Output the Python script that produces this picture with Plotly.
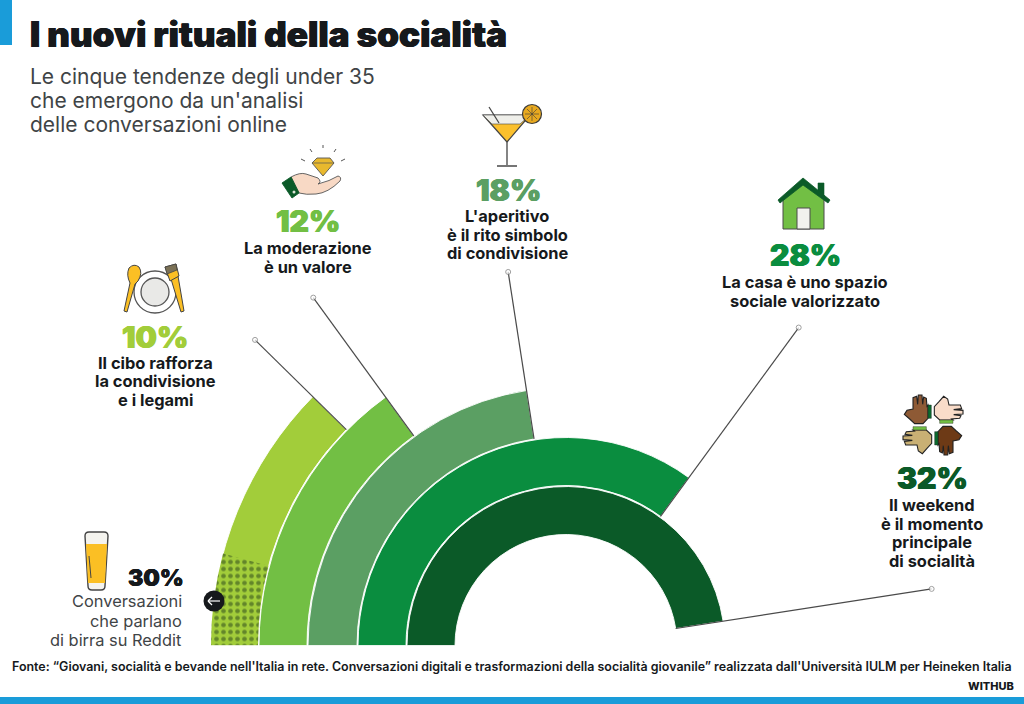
import plotly.graph_objects as go

# percentages and how far each ring runs from the left baseline (degrees)
pct = [10, 12, 18, 28, 32]
sweep_deg = [44.5, 54, 81.2, 126.2, 171.2]
leader_tip = [436, 430, 378, 394, 370]
labels = [
    "Il cibo rafforza<br>la condivisione<br>e i legami",
    "La moderazione<br>è un valore",
    "L'aperitivo<br>è il rito simbolo<br>di condivisione",
    "La casa è uno spazio<br>sociale valorizzato",
    "Il weekend<br>è il momento<br>principale<br>di socialità",
]
beer_pct = 30
beer_sweep_deg = 15
beer_label = "Conversazioni<br>che parlano<br>di birra su Reddit"
title = "I nuovi rituali della socialità"
subtitle = "Le cinque tendenze degli under 35<br>che emergono da un'analisi<br>delle conversazioni online"
source = ("Fonte: “Giovani, socialità e bevande nell'Italia in rete. Conversazioni digitali e trasformazioni "
          "della socialità giovanile” realizzata dall'Università IULM per Heineken Italia")

colors = ["#a2cd3a", "#72bf44", "#5b9f63", "#0a8d3f", "#0b5a28"]
ring_in = [308, 259, 209, 160, 111]
ring_out = [355, 307, 258, 208, 159]
INK = "#16191c"
FONT = "Inter"

# polar area is laid out so one radial unit = one pixel, centre at (566, 645.5)
R = 458
fig = go.Figure()
for i in range(5):
    fig.add_trace(go.Barpolar(
        r=[ring_out[i] - ring_in[i]], base=[ring_in[i]],
        theta=[180 - sweep_deg[i] / 2], width=[sweep_deg[i]],
        marker=dict(color=colors[i], line=dict(color="white", width=0.9)),
        hoverinfo="skip"))
fig.add_trace(go.Barpolar(
    r=[ring_out[0] - ring_in[0]], base=[ring_in[0]],
    theta=[180 - beer_sweep_deg / 2], width=[beer_sweep_deg],
    marker=dict(color=colors[0], line=dict(width=0),
                pattern=dict(shape=".", fgcolor="#24401a", bgcolor=colors[0], size=7, solidity=0.35)),
    hoverinfo="skip"))

# leader lines run along the end of each ring
for i in range(5):
    fig.add_trace(go.Scatterpolar(
        r=[ring_in[i], leader_tip[i]], theta=[180 - sweep_deg[i]] * 2,
        mode="lines+markers", line=dict(color="#4a4a4a", width=1.2),
        marker=dict(size=[0, 5], color="white", line=dict(color="#777777", width=1)),
        hoverinfo="skip"))

# empty trace so the hidden pixel axes exist for shapes and text
fig.add_trace(go.Scatter(x=[], y=[], xaxis="x", yaxis="y", hoverinfo="skip"))

shapes = []


def poly(points, fill, line="#3a3a3a", width=1.0):
    d = "M " + " L ".join(f"{x},{y}" for x, y in points) + " Z"
    shapes.append(dict(type="path", path=d, fillcolor=fill, line=dict(color=line, width=width)))


def curve(d, fill, line="#3a3a3a", width=1.0):
    shapes.append(dict(type="path", path=d, fillcolor=fill, line=dict(color=line, width=width)))


def seg(x0, y0, x1, y1, color="#3a3a3a", width=1.2):
    shapes.append(dict(type="line", x0=x0, y0=y0, x1=x1, y1=y1, line=dict(color=color, width=width)))


def circ(cx, cy, r, fill, line="#3a3a3a", width=1.0):
    shapes.append(dict(type="circle", x0=cx - r, x1=cx + r, y0=cy - r, y1=cy + r,
                       fillcolor=fill, line=dict(color=line, width=width)))


# corner bars
poly([(0, 0), (12, 0), (12, 45), (0, 45)], "#1a9cd9", "#1a9cd9", 0)
poly([(0, 697), (1024, 697), (1024, 704), (0, 704)], "#1a9cd9", "#1a9cd9", 0)

# beer glass
curve("M 85,536 Q 85,532 89,532 L 104,532 Q 108,532 108,536 L 105,586 Q 105,590 101,590 L 92,590 Q 88,590 88,586 Z",
      "#f4f3ee", "#444444", 1.4)
poly([(86, 544), (107, 544), (105, 583), (88, 583)], "#fbbf24", "#fbbf24", 0)
seg(89, 556, 91, 578, "#444444", 1)

# plate and cutlery
circ(155, 292, 21, "white", "#555555", 1.3)
circ(155, 292, 14, "#e9e9e7", "#555555", 1.3)
curve("M 129,268 Q 134,263 139,267 Q 143,273 138,281 L 135,284 L 127,312 L 124,311 L 130,283 Q 126,275 129,268 Z",
      "#fbbf24", "#444444", 1.0)
poly([(171, 279), (178, 276), (184, 311), (181, 312)], "#fbbf24", "#444444", 1.0)
poly([(165, 267), (176, 264), (179, 276), (170, 281)], "#fbbf24", "#444444", 1.0)
poly([(165, 267), (176, 264), (177, 270), (167, 274)], "#7b7156", "#444444", 0.8)

# hand and diamond
for ray in [(305, 161, 301, 159), (312, 152, 310, 149), (323, 148, 323, 145), (334, 152, 336, 149), (341, 161, 345, 159)]:
    seg(*ray, "#555555", 1)
poly([(312, 163), (317, 158), (330, 158), (334, 163), (323, 176)], "#e9b92e", "#555555", 0.9)
seg(312, 163, 334, 163, "#555555", 0.7)
curve("M 291,177 Q 300,172 306,174 L 318,178 Q 322,182 318,184 Q 330,181 338,176 Q 342,177 340,181 "
      "Q 328,193 316,194 Q 306,195 299,193 Z", "#f8d9c5", "#555555", 0.9)
poly([(282, 183), (291, 177), (299, 193), (292, 198)], "#0b5a28", "#0b5a28", 0.9)
circ(294, 192, 1.5, "#dfe6d8", "#dfe6d8", 0)

# cocktail
poly([(483, 115), (530, 115), (507, 142)], "#fbc02d", "#444444", 1.2)
poly([(483, 115), (530, 115), (520, 124), (492, 124)], "#efefea", "#444444", 0.6)
seg(489, 107, 499, 123, "#444444", 1.2)
seg(507, 142, 507, 165, "#666666", 1.6)
seg(497, 166, 517, 166, "#666666", 1.8)
circ(532, 114, 9.5, "#e8a91f", "#3a3a3a", 1.2)
seg(525, 114, 539, 114, "#3a3a3a", 0.6)
seg(532, 107, 532, 121, "#3a3a3a", 0.6)
seg(527, 109, 537, 119, "#3a3a3a", 0.6)
seg(537, 109, 527, 119, "#3a3a3a", 0.6)

# house
poly([(818, 183), (824, 183), (824, 197), (818, 197)], "#0b5a28", "#0b5a28", 0.6)
poly([(783, 197), (803, 183), (824, 197), (824, 229), (783, 229)], "#72bf44", "#4a4a4a", 1.0)
poly([(778, 200), (803, 178), (830, 200), (828, 203), (803, 185), (780, 203)], "#0b5a28", "#0b5a28", 0.8)
poly([(797, 208), (810, 208), (810, 229), (797, 229)], "#f2f2ee", "#4a4a4a", 1.0)

# four hands: same outline turned a quarter each time round the middle
hand = [(-15, -60), (-18, -56), (-20, -80), (-28, -84), (-31, -62), (-33, -90), (-44, -90), (-46, -62),
        (-49, -86), (-60, -82), (-60, -48), (-78, -44), (-86, -32), (-70, -18), (-55, -4), (-30, -4), (-15, -20)]
band = [(-15, -60), (-5, -60), (-5, -20), (-15, -20)]
skins = ["#8e5a35", "#f9dcc9", "#6d3a16", "#c9b074"]
bands = ["#0b6a2e", "#72bf44", "#0b6a2e", "#72bf44"]
for k in range(4):
    pts, bpts = hand, band
    for _ in range(k):
        pts = [(-y, x) for x, y in pts]
        bpts = [(-y, x) for x, y in bpts]
    poly([(933 + x / 3, 425 + y / 3) for x, y in pts], skins[k], "#222222", 1.1)
    poly([(933 + x / 3, 425 + y / 3) for x, y in bpts], bands[k], "#222222", 0.4)

# arrow badge
circ(214, 601, 10.5, INK, INK, 0)
seg(208, 601, 220, 601, "white", 1.2)
seg(208, 601, 212, 597, "white", 1.2)
seg(208, 601, 212, 605, "white", 1.2)

ann = []


def text(x, y, s, size, color=INK, weight=400, anchor="center", step=0, fat=0):
    # one annotation per line so the line spacing stays what the picture shows
    shadow = "none"
    if fat:
        shadow = f"{fat}px 0 0 {color}, -{fat}px 0 0 {color}"
    for j, part in enumerate(s.split("<br>")):
        ann.append(dict(x=x, y=y + j * step, text=part, showarrow=False, xanchor=anchor, yanchor="middle",
                        font=dict(family=FONT, size=size, color=color, weight=weight, shadow=shadow)))


text(28, 34, title, 35, weight=900, anchor="left", fat=0.4)
text(28, 76, subtitle, 21, color="#3f4446", anchor="left", step=24)

pct_xy = [(155, 336.5), (308, 221), (508, 190), (805, 255), (932, 478)]
label_xy = [(155, 362.5), (308, 248), (507, 216), (805, 282), (932, 505)]
for i in range(5):
    text(*pct_xy[i], f"{pct[i]}%", 30, color=colors[i], weight=900, fat=0.5)
    text(*label_xy[i], labels[i], 16.4, weight=700, step=18.5)

text(186, 578, f"{beer_pct}%", 23, weight=900, anchor="right", fat=0.3)
text(184, 601, beer_label, 16.4, color="#3f4446", anchor="right", step=19.5)
text(10, 666, source, 12.45, weight=600, anchor="left")
text(1016, 686, "WITHUB", 11, weight=800, anchor="right")

fig.update_layout(
    width=1024, height=704, showlegend=False, autosize=False,
    margin=dict(l=0, r=0, t=0, b=0), paper_bgcolor="white", plot_bgcolor="rgba(0,0,0,0)",
    polar=dict(
        domain=dict(x=[(566 - R) / 1024, (566 + R) / 1024], y=[(704 - 645.5) / 704, (704 - 645.5 + R) / 704]),
        sector=[0, 180], bgcolor="rgba(0,0,0,0)",
        radialaxis=dict(visible=False, range=[0, R]),
        angularaxis=dict(visible=False, direction="counterclockwise", rotation=0),
    ),
    xaxis=dict(visible=False, range=[0, 1024], fixedrange=True),
    yaxis=dict(visible=False, range=[704, 0], fixedrange=True),
    shapes=shapes, annotations=ann,
)

# the page's default body margin would push everything 8px in
fig.write_html("out.html", config={"displayModeBar": False},
               post_script="document.body.style.margin='0';document.documentElement.style.overflow='hidden';")
